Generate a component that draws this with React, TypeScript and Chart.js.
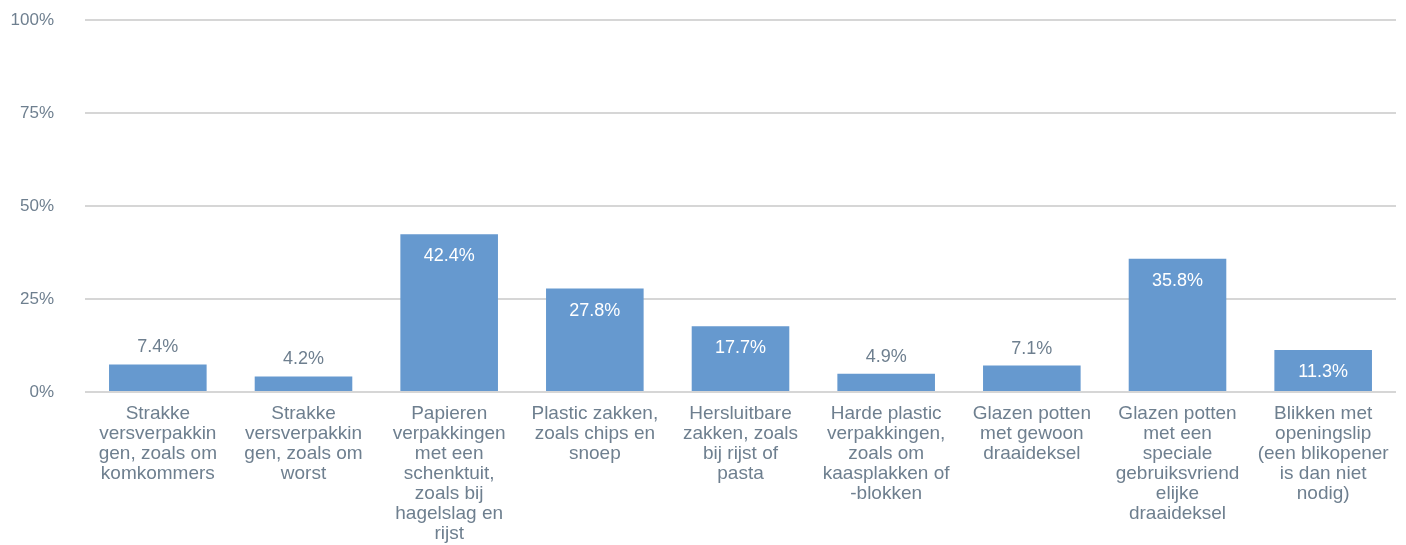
import React, { useEffect, useRef } from "react";
import { Chart, registerables } from "chart.js";

Chart.register(...registerables);

const categories: string[][] = [
  ["Strakke", "versverpakkin", "gen, zoals om", "komkommers"],
  ["Strakke", "versverpakkin", "gen, zoals om", "worst"],
  ["Papieren", "verpakkingen", "met een", "schenktuit,", "zoals bij", "hagelslag en", "rijst"],
  ["Plastic zakken,", "zoals chips en", "snoep"],
  ["Hersluitbare", "zakken, zoals", "bij rijst of", "pasta"],
  ["Harde plastic", "verpakkingen,", "zoals om", "kaasplakken of", "-blokken"],
  ["Glazen potten", "met gewoon", "draaideksel"],
  ["Glazen potten", "met een", "speciale", "gebruiksvriend", "elijke", "draaideksel"],
  ["Blikken met", "openingslip", "(een blikopener", "is dan niet", "nodig)"],
];
const values: number[] = [7.4, 4.2, 42.4, 27.8, 17.7, 4.9, 7.1, 35.8, 11.3];
const yTicks: number[] = [0, 25, 50, 75, 100];

const TEXT = "#6e7f8f";
const FONT = "'Liberation Sans', Arial, sans-serif";

const labelPlugin = {
  id: "barLabels",
  afterDatasetsDraw(chart: any) {
    const ctx = chart.ctx;
    const meta = chart.getDatasetMeta(0);
    ctx.save();
    ctx.font = `18px ${FONT}`;
    ctx.textAlign = "center";
    ctx.textBaseline = "middle";
    meta.data.forEach((bar: any, i: number) => {
      const v = values[i];
      const txt = v.toFixed(1) + "%";
      if (v >= 10) {
        ctx.fillStyle = "#ffffff";
        ctx.fillText(txt, bar.x, bar.y + 22);
      } else {
        ctx.fillStyle = TEXT;
        ctx.fillText(txt, bar.x, bar.y - 17);
      }
    });
    ctx.restore();
  },
};

export default function App() {
  const ref = useRef<HTMLCanvasElement>(null);
  useEffect(() => {
    document.body.style.margin = "0";
    const chart = new Chart(ref.current!, {
      type: "bar",
      data: {
        labels: categories,
        datasets: [
          {
            data: values,
            backgroundColor: "#6699CF",
            barPercentage: 0.67,
            categoryPercentage: 1,
          },
        ],
      },
      options: {
        animation: false,
        responsive: false,
        maintainAspectRatio: false,
        layout: { padding: { top: 20, right: 10, left: 0, bottom: 0 } },
        plugins: { legend: { display: false }, tooltip: { enabled: false } },
        scales: {
          x: {
            grid: { display: false, drawTicks: false },
            border: { display: false },
            ticks: {
              color: TEXT,
              font: { family: FONT, size: 19, lineHeight: 20 / 19 },
              padding: 12,
              maxRotation: 0,
              autoSkip: false,
            },
            afterFit: (s: any) => {
              s.height = 153;
              s.paddingLeft = 0;
              s.paddingRight = 0;
            },
          },
          y: {
            min: 0,
            max: 100,
            afterBuildTicks: (s: any) => {
              s.ticks = yTicks.map((v) => ({ value: v }));
            },
            grid: { color: "#d6d6d6", lineWidth: 2, drawTicks: false },
            border: { display: false },
            ticks: {
              color: TEXT,
              font: { family: FONT, size: 17 },
              padding: 31,
              callback: (v: any) => v + "%",
            },
            afterFit: (s: any) => {
              s.width = 85;
              s.paddingTop = 0;
              s.paddingBottom = 0;
            },
          },
        },
      },
      plugins: [labelPlugin],
    });
    return () => chart.destroy();
  }, []);
  return <canvas ref={ref} width={1406} height={545} />;
}
